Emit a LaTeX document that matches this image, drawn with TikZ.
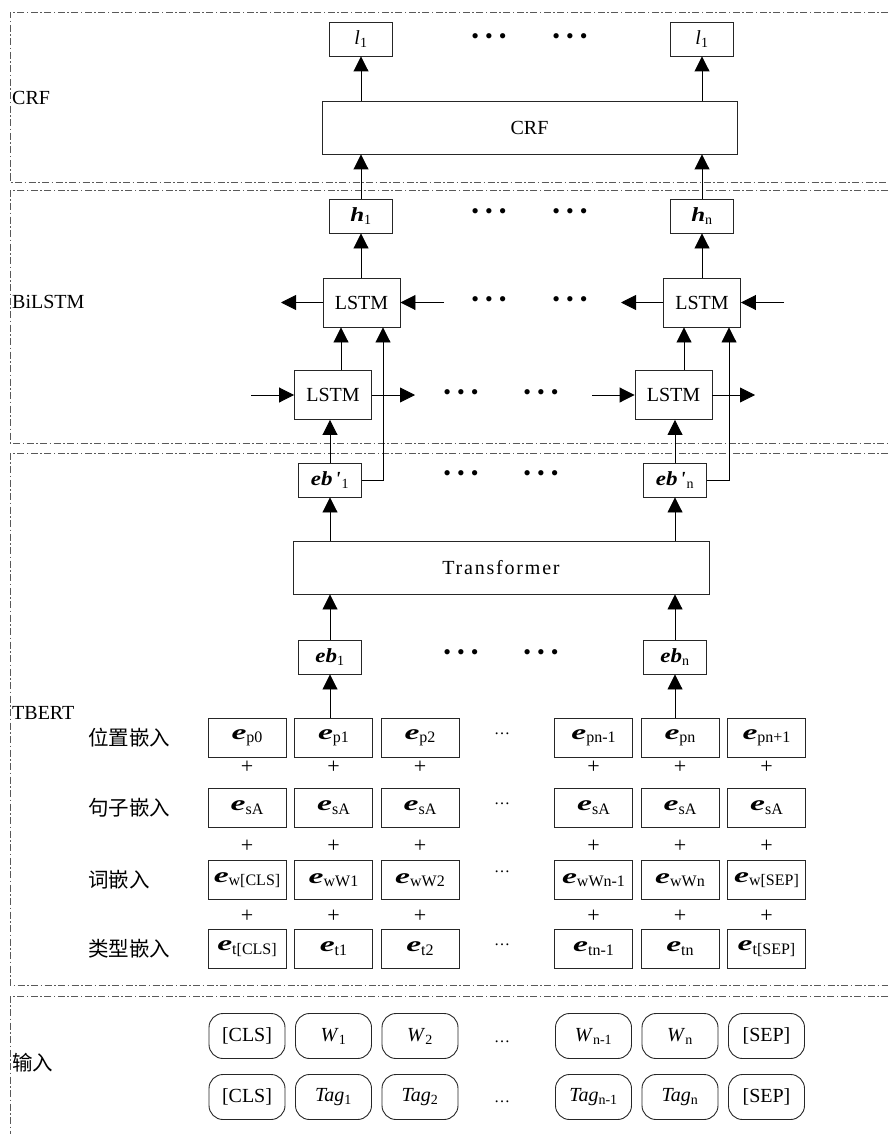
\documentclass[tikz,border=0pt]{standalone}
\usepackage{graphicx}
\usepackage{fontspec}
\setmainfont{Liberation Serif}
\newfontfamily\cjk{Noto Sans CJK SC}
\newfontfamily\spaced[LetterSpace=9]{Liberation Serif}
\usetikzlibrary{arrows.meta,calc}
\newcommand\bi[1]{\textbf{\textit{#1}}}
\newcommand\sub[1]{\textsubscript{#1}}
\newcommand\ssub[1]{\raisebox{-3.5pt}{\fontsize{16}{18}\selectfont #1}}
\newcommand\ee{\scalebox{1.6}[1]{\fontsize{21}{22}\selectfont\bi{e}}}
\newcommand\ebx{\scalebox{1.15}[1]{\bi{eb}}}
\newcommand\ebp{\scalebox{1.15}[1]{\bi{eb}}\hspace{2.5pt}\bi{\textquotesingle}\hspace{1pt}}
\newcommand\hh{\scalebox{1.25}[1]{\bi{h}}}
\newcommand\tridots{\textbullet\hspace{6pt}\textbullet\hspace{6pt}\textbullet}
\begin{document}
\begin{tikzpicture}[x=1pt,y=-1pt,
 sect/.style={draw=black!65, line width=0.8pt, dash pattern=on 7pt off 2.5pt on 1.5pt off 2.5pt},
 box/.style={draw=black!85, line width=0.9pt, inner sep=0pt, font=\fontsize{20}{22}\selectfont},
 tok/.style={box, minimum width=63pt, minimum height=34pt},
 lstm/.style={box, minimum width=77pt, minimum height=49pt},
 wide/.style={box, minimum width=415pt, minimum height=53pt},
 emb/.style={box, minimum width=78pt, minimum height=39pt},
 inp/.style={box, rounded corners=14pt, minimum width=76pt, minimum height=45pt},
 arr/.style={-{Triangle[length=15pt,width=15pt]}, line width=0.9pt},
 bdots/.style={font=\fontsize{22}{24}\selectfont, inner sep=0pt},
 sdots/.style={font=\fontsize{16}{18}\selectfont, inner sep=0pt, anchor=base},
 lab/.style={font=\fontsize{20}{22}\selectfont, anchor=west, inner sep=0pt},
 clab/.style={font=\cjk\fontsize{20.5}{22}\selectfont, anchor=west, inner sep=0pt},
 plus/.style={font=\fontsize{22}{24}\selectfont, inner sep=0pt}]
\useasboundingbox (0,0) rectangle (888,1134);

% section frames
\draw[sect] (888,12) -- (10,12) -- (10,182) -- (888,182);
\draw[sect] (888,190) -- (10,190) -- (10,443) -- (888,443);
\draw[sect] (888,453) -- (10,453) -- (10,985) -- (888,985);
\draw[sect] (888,996) -- (10,996) -- (10,1134);

% section labels
\node[lab] (labcrf) at (12,98) {CRF};
\node[lab] (labbil) at (12,302) {BiLSTM};
\node[lab] (labtb) at (12,713) {TBERT};
\node[clab] (labin) at (12,1063) {输入};

% CRF layer
\node[tok] (l1) at (361,39) {\textit{l}\sub{1}};
\node[tok] (ln) at (702,39) {\textit{l}\sub{1}};
\node[bdots] (dc1) at (489,39) {\tridots};
\node[bdots] (dc2) at (570,39) {\tridots};
\node[wide] (crf) at (529.5,127.5) {CRF};
\draw[arr] (l1.south |- crf.north) -- (l1.south);
\draw[arr] (ln.south |- crf.north) -- (ln.south);

% BiLSTM layer
\node[tok] (h1) at (361,216) {\hh\sub{1}};
\node[tok] (hn) at (702,216) {\hh\sub{n}};
\node[bdots] (dh1) at (489,214) {\tridots};
\node[bdots] (dh2) at (570,214) {\tridots};
\draw[arr] (h1.north) -- (h1.north |- crf.south);
\draw[arr] (hn.north) -- (hn.north |- crf.south);

\node[lstm] (U1) at (361.5,302.5) {LSTM};
\node[lstm] (Un) at (702,302.5) {LSTM};
\node[bdots] (du1) at (489,302) {\tridots};
\node[bdots] (du2) at (570,302) {\tridots};
\coordinate (u1l) at (281,302.5);
\coordinate (u1r) at (444,302.5);
\coordinate (unl) at (621,302.5);
\coordinate (unr) at (784,302.5);
\draw[arr] (U1.west) -- (u1l);
\draw[arr] (u1r) -- (U1.east);
\draw[arr] (Un.west) -- (unl);
\draw[arr] (unr) -- (Un.east);
\draw[arr] (U1.north -| h1.south) -- (h1.south);
\draw[arr] (Un.north -| hn.south) -- (hn.south);

\node[lstm] (L1) at (333,395) {LSTM};
\node[lstm] (Ln) at (673.5,395) {LSTM};
\node[bdots] (dl1) at (461,395) {\tridots};
\node[bdots] (dl2) at (541,395) {\tridots};
\coordinate (l1in) at (251,395);
\coordinate (l1out) at (415,395);
\coordinate (lnin) at (592,395);
\coordinate (lnout) at (755,395);
\draw[arr] (l1in) -- (L1.west);
\draw[arr] (L1.east) -- (l1out);
\draw[arr] (lnin) -- (Ln.west);
\draw[arr] (Ln.east) -- (lnout);
\draw[arr] (341,0 |- L1.north) -- (341,0 |- U1.south);
\draw[arr] (684,0 |- Ln.north) -- (684,0 |- Un.south);

% TBERT layer
\node[tok] (ep1) at (330,480) {\ebp\sub{1}};
\node[tok] (epn) at (675,480) {\ebp\sub{n}};
\node[bdots] (de1) at (461,476) {\tridots};
\node[bdots] (de2) at (541,476) {\tridots};
\draw[arr] (ep1.north) -- (ep1.north |- L1.south);
\draw[arr] (epn.north) -- (epn.north |- Ln.south);
\draw[arr] (ep1.east) -| (383,0 |- U1.south);
\draw[arr] (epn.east) -| (729,0 |- Un.south);

\node[wide, minimum width=416pt, font=\spaced\fontsize{20}{22}\selectfont] (tr) at (501,567.5) {Transformer};
\draw[arr] (ep1.south |- tr.north) -- (ep1.south);
\draw[arr] (epn.south |- tr.north) -- (epn.south);

\node[tok] (eb1) at (330,657) {\ebx\sub{1}};
\node[tok] (ebn) at (675,657) {\ebx\sub{n}};
\node[bdots] (db1) at (461,655) {\tridots};
\node[bdots] (db2) at (541,655) {\tridots};
\draw[arr] (eb1.north) -- (eb1.north |- tr.south);
\draw[arr] (ebn.north) -- (ebn.north |- tr.south);

% row labels
\node[clab] (rl1) at (88,737.5) {位置嵌入};
\node[clab] (rl2) at (88,807.5) {句子嵌入};
\node[clab] (rl3) at (88,880) {词嵌入};
\node[clab] (rl4) at (88,948.5) {类型嵌入};

% embedding grid and inputs
\foreach \i/\x/\p/\w/\t/\a/\b in {
 1/247/{p0}/{w[CLS]}/{t[CLS]}/{[CLS]}/{[CLS]},
 2/333.5/{p1}/{wW1}/{t1}/{\textit{W}\sub{1}}/{\textit{Tag}\sub{1}},
 3/420/{p2}/{wW2}/{t2}/{\textit{W}\sub{2}}/{\textit{Tag}\sub{2}},
 4/593.5/{pn-1}/{wWn-1}/{tn-1}/{\textit{W}\sub{n-1}}/{\textit{Tag}\sub{n-1}},
 5/680/{pn}/{wWn}/{tn}/{\textit{W}\sub{n}}/{\textit{Tag}\sub{n}},
 6/766.5/{pn+1}/{w[SEP]}/{t[SEP]}/{[SEP]}/{[SEP]}} {
 \node[emb] (pos\i) at (\x,737.5) {\ee\ssub{\p}};
 \node[emb] (sen\i) at (\x,807.5) {\ee\ssub{sA}};
 \node[emb] (wrd\i) at (\x,880) {\ee\ssub{\w}};
 \node[emb] (typ\i) at (\x,948.5) {\ee\ssub{\t}};
 \node[plus] (pa\i) at (\x,767) {+};
 \node[plus] (pb\i) at (\x,846) {+};
 \node[plus] (pc\i) at (\x,916) {+};
 \node[inp] (ina\i) at (\x,1036) {\a};
 \node[inp] (inb\i) at (\x,1097) {\b};
}
\node[sdots] (dr1) at (502,734) {\dots};
\node[sdots] (dr2) at (502,804) {\dots};
\node[sdots] (dr3) at (502,872) {\dots};
\node[sdots] (dr4) at (502,945) {\dots};
\node[sdots] (dr5) at (502,1042) {\dots};
\node[sdots] (dr6) at (502,1102) {\dots};

\draw[arr] (eb1.south |- pos2.north) -- (eb1.south);
\draw[arr] (ebn.south |- pos5.north) -- (ebn.south);
\end{tikzpicture}
\end{document}
